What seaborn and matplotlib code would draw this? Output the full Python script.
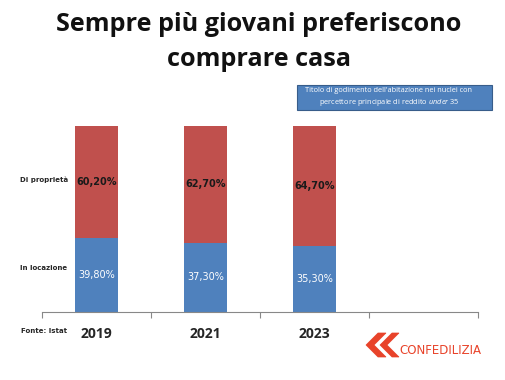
import matplotlib
matplotlib.use("Agg")
import matplotlib.pyplot as plt
import seaborn as sns
import pandas as pd
import numpy as np
from matplotlib.patches import FancyBboxPatch, Polygon

# ---- data ----
years = ["2019", "2021", "2023", ""]
in_locazione = [39.80, 37.30, 35.30, np.nan]
di_proprieta = [60.20, 62.70, 64.70, np.nan]
series_labels = ["In locazione", "Di proprietà"]
title = "Sempre più giovani preferiscono\ncomprare casa"
note_line1 = "Titolo di godimento dell'abitazione nei nuclei con"
note_line2 = r"percettore principale di reddito $\mathit{under}$ 35"
source = "Fonte: Istat"

BLUE = "#4F81BD"
RED = "#C0504D"

sns.set_theme(style="white")
plt.rcParams["font.family"] = ["Open Sans", "DejaVu Sans"]
plt.rcParams["mathtext.fontset"] = "custom"
plt.rcParams["mathtext.it"] = "Open Sans:italic"
plt.rcParams["mathtext.rm"] = "Open Sans"

df = pd.DataFrame({"year": years, "loc": in_locazione, "prop": di_proprieta})
df["total"] = df["loc"] + df["prop"]

fig = plt.figure(figsize=(5.06, 3.80), dpi=100)
ax = fig.add_axes([42 / 506, 68 / 380, 436 / 506, 186 / 380])

sns.barplot(data=df, x="year", y="total", color=RED, width=0.40, ax=ax,
            saturation=1, order=years, edgecolor="none", linewidth=0)
sns.barplot(data=df, x="year", y="loc", color=BLUE, width=0.40, ax=ax,
            saturation=1, order=years, edgecolor="none", linewidth=0)

for i, (l, p) in enumerate(zip(in_locazione, di_proprieta)):
    if np.isnan(l):
        continue
    ax.text(i, l / 2, f"{l:.2f}%".replace(".", ","), ha="center", va="center",
            color="white", fontsize=7, family=["DejaVu Sans"])
    ax.text(i, l + p / 2, f"{p:.2f}%".replace(".", ","), ha="center", va="center",
            color="#1a1a1a", fontsize=7, fontweight="bold", family=["DejaVu Sans"])

ax.set_xlim(-0.5, 3.5)
ax.set_ylim(0, 100)
ax.set_xlabel("")
ax.set_ylabel("")
ax.set_yticks([])
ax.set_xticks([-0.5, 0.5, 1.5, 2.5, 3.5])
ax.set_xticklabels([])
ax.tick_params(axis="x", which="major", length=4, color="#888888", width=0.8, direction="out", bottom=True)
ax.set_xticks([0, 1, 2, 3], minor=True)
ax.set_xticklabels(years, minor=True, fontsize=10, fontweight="bold")
ax.tick_params(axis="x", which="minor", length=0, pad=11)
for s in ["top", "left", "right"]:
    ax.spines[s].set_visible(False)
ax.spines["bottom"].set_color("#888888")
ax.spines["bottom"].set_linewidth(0.8)

# left labels
lab_font = ["Liberation Sans Narrow", "DejaVu Sans"]
fig.text(44 / 506, 1 - 180 / 380, series_labels[1], ha="center", va="center",
         fontsize=5, fontweight="bold", family=lab_font)
fig.text(44 / 506, 1 - 268 / 380, series_labels[0], ha="center", va="center",
         fontsize=5, fontweight="bold", family=lab_font)
fig.text(44 / 506, 1 - 331 / 380, source, ha="center", va="center",
         fontsize=5, fontweight="bold", family=lab_font)

# title
fig.text(0.5 + 6 / 506, 1 - 42 / 380, title, ha="center", va="center", fontsize=18.2,
         fontweight="bold", linespacing=1.5, color="#111111")

# note box
box = FancyBboxPatch((297 / 506, 1 - 110 / 380), 195 / 506, 25 / 380,
                     boxstyle="square,pad=0", transform=fig.transFigure,
                     facecolor=BLUE, edgecolor="#385D8A", linewidth=0.8)
fig.patches.append(box)
fig.text(389 / 506, 1 - 91 / 380, note_line1, ha="center", va="center",
         fontsize=5.3, color="white")
fig.text(389 / 506, 1 - 102 / 380, note_line2, ha="center", va="center",
         fontsize=5.3, color="white")

# logo (decorative)
LOGO = "#E8432A"
pts1 = [(366, 345), (378, 333), (386, 333), (374, 345), (386, 357), (378, 357)]
pts2 = [(380, 345), (392, 333), (399, 333), (387, 345), (399, 357), (392, 357)]
for pts in (pts1, pts2):
    poly = Polygon([(x / 506, 1 - y / 380) for x, y in pts], closed=True,
                   transform=fig.transFigure, facecolor=LOGO, edgecolor=LOGO, lw=0.5)
    fig.patches.append(poly)
fig.text(399 / 506, 1 - 351 / 380, "CONFEDILIZIA", ha="left", va="center",
         fontsize=8.5, color=LOGO, family=lab_font)

fig.savefig("out.png", dpi=100)
